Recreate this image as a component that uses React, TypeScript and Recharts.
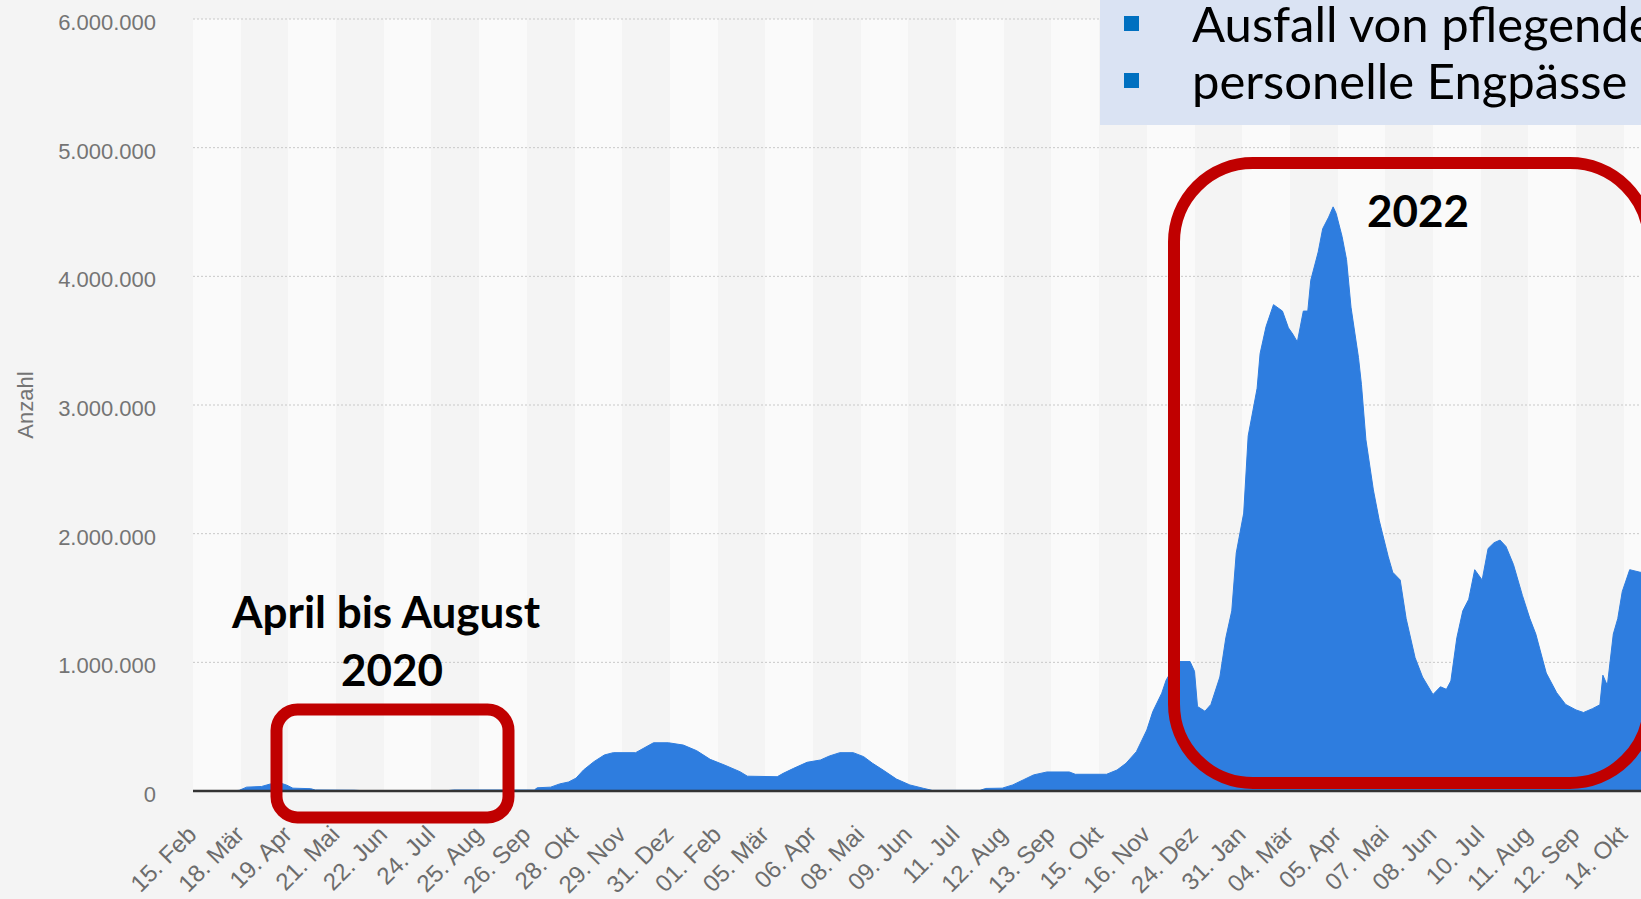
import React from 'react';
import { AreaChart, Area, XAxis, YAxis, CartesianGrid } from 'recharts';

// Tage seit dem 15. Feb 2020 (Index der täglichen Kategorien)
const dayIndex = [
  0, 25, 31, 36, 46, 52, 58, 63, 67, 79, 82, 108, 115, 170, 175, 229, 231, 240, 246, 252,
  257, 262, 269, 276, 282, 297, 302, 309, 319, 329, 338, 347, 357, 367, 372, 392, 396, 403, 412, 421,
  427, 434, 443, 450, 456, 463, 472, 481, 490, 496, 528, 532, 543, 550, 557, 564, 573, 588, 592, 613,
  620, 626, 633, 640, 644, 650, 653, 658, 662, 669, 672, 674, 679, 683, 689, 693, 697, 700, 705, 708,
  714, 716, 720, 725, 731, 735, 738, 741, 745, 748, 750, 755, 758, 762, 765, 767, 771, 774, 777, 782,
  784, 787, 792, 796, 802, 805, 810, 814, 820, 825, 832, 837, 841, 844, 848, 852, 856, 860, 865, 869,
  873, 877, 881, 886, 892, 897, 901, 908, 915, 921, 928, 933, 939, 944, 946, 949, 953, 956, 959, 964,
  971, 980,
];

// Anzahl in Tausend
const countThousands = [
  0, 0, 5, 30, 35, 55, 65, 45, 22, 18, 8, 6, 2, 2, 8, 8, 25, 30, 55, 70,
  100, 163, 228, 280, 298, 298, 330, 375, 375, 357, 313, 246, 200, 150, 115, 111, 137, 176, 223, 241,
  272, 298, 298, 267, 215, 163, 93, 47, 21, 5, 5, 20, 22, 47, 86, 125, 148, 148, 130, 130,
  163, 215, 306, 474, 617, 760, 863, 960, 1006, 1006, 930, 657, 620, 673, 886, 1190, 1400, 1850, 2160, 2760,
  3130, 3400, 3610, 3780, 3730, 3600, 3550, 3490, 3730, 3730, 3970, 4190, 4370, 4460, 4540, 4490, 4310, 4130, 3760, 3370,
  3160, 2730, 2340, 2100, 1820, 1700, 1640, 1340, 1036, 886, 750, 810, 790, 855, 1190, 1400, 1490, 1720, 1640, 1885,
  1930, 1950, 1900, 1760, 1520, 1340, 1220, 917, 764, 673, 630, 610, 640, 670, 900, 820, 1220, 1340, 1550, 1720,
  1700, 1700,
];

const tickLabels = [
  '15. Feb', '18. Mär', '19. Apr', '21. Mai', '22. Jun', '24. Jul', '25. Aug', '26. Sep', '28. Okt', '29. Nov', '31. Dez',
  '01. Feb', '05. Mär', '06. Apr', '08. Mai', '09. Jun', '11. Jul', '12. Aug', '13. Sep', '15. Okt', '16. Nov', '24. Dez',
  '31. Jan', '04. Mär', '05. Apr', '07. Mai', '08. Jun', '10. Jul', '11. Aug', '12. Sep', '14. Okt',
];
// jede 32. Kategorie ist beschriftet
const tickDays = tickLabels.map((_, i) => i * 32);

const yTicks = [0, 1000000, 2000000, 3000000, 4000000, 5000000, 6000000];

const data = dayIndex.map((d, i) => ({ day: d, value: countThousands[i] * 1000 }));

const AXIS_FONT = "'Liberation Sans', Arial, sans-serif";
const NOTE_FONT = "Lato, 'Open Sans', sans-serif";
const BLUE = '#2e7ddf';
const RED = '#c00000';

const fmt = (v: number) => String(v).replace(/\B(?=(\d{3})+(?!\d))/g, '.');

const XTick = (props: any) => {
  const { x, y, payload } = props;
  const label = tickLabels[tickDays.indexOf(payload.value)];
  return (
    <g transform={`translate(${x + 5},${y + 45})`}>
      <text textAnchor="end" transform="rotate(-45)" fontSize={24} fill="#6c6c6c" fontFamily={AXIS_FONT}>
        {label}
      </text>
    </g>
  );
};

const YTick = (props: any) => {
  const { x, y, payload } = props;
  return (
    <text x={x} y={y} dy={11} textAnchor="end" fontSize={22} fill="#747474" fontFamily={AXIS_FONT}>
      {fmt(payload.value)}
    </text>
  );
};

export default function App() {
  return (
    <div style={{ position: 'absolute', left: 0, top: 0, width: 1641, height: 899, overflow: 'hidden', background: '#f4f4f4' }}>
      <AreaChart width={1661} height={899} data={data} margin={{ top: 19, right: 0, bottom: 0, left: 0 }}>
        <CartesianGrid horizontal={false} vertical verticalFill={['#fafafa', '#f4f4f4']} stroke="none" />
        <CartesianGrid vertical={false} stroke="#c8c8c8" strokeDasharray="2 2" />
        <Area
          type="linear"
          dataKey="value"
          stroke={BLUE}
          strokeWidth={1}
          fill={BLUE}
          fillOpacity={1}
          dot={false}
          activeDot={false}
          isAnimationActive={false}
        />
        <XAxis
          type="number"
          dataKey="day"
          domain={[0, 985]}
          ticks={tickDays}
          interval={0}
          height={108}
          tickLine={false}
          tickSize={0}
          tickMargin={0}
          axisLine={{ stroke: '#333333', strokeWidth: 2.5 }}
          tick={<XTick />}
          allowDataOverflow
        />
        <YAxis
          type="number"
          domain={[0, 6000000]}
          ticks={yTicks}
          interval={0}
          width={193}
          tickLine={false}
          axisLine={false}
          tickSize={0}
          tickMargin={37}
          tick={<YTick />}
        />
      </AreaChart>
      <svg width={1641} height={899} style={{ position: 'absolute', left: 0, top: 0, pointerEvents: 'none' }}>
        <text x={33} y={405} transform="rotate(-90 33 405)" textAnchor="middle" fontSize={22} fill="#747474" fontFamily={AXIS_FONT}>
          Anzahl
        </text>
        <rect x={1100} y={-10} width={600} height={135} fill="#dae3f3" />
        <rect x={1124} y={16} width={15} height={15} fill="#0070c0" />
        <rect x={1124} y={73} width={15} height={15} fill="#0070c0" />
        <text x={1192} y={42} fontSize={49} fill="#000" fontFamily={NOTE_FONT}>Ausfall von pflegende</text>
        <text x={1192} y={99} fontSize={49} fill="#000" fontFamily={NOTE_FONT}>personelle Engpässe</text>
        <rect x={276.5} y={709.5} width={232} height={108} rx={21} fill="none" stroke={RED} strokeWidth={12} />
        <rect x={1174} y={163} width={475} height={620} rx={79} fill="none" stroke={RED} strokeWidth={12} />
        <text x={386} y={628} textAnchor="middle" fontSize={44} fontWeight="bold" fill="#000" fontFamily={NOTE_FONT}>
          April bis August
        </text>
        <text x={392} y={686} textAnchor="middle" fontSize={44} fontWeight="bold" fill="#000" fontFamily={NOTE_FONT}>
          2020
        </text>
        <text x={1418} y={227} textAnchor="middle" fontSize={44} fontWeight="bold" fill="#000" fontFamily={NOTE_FONT}>
          2022
        </text>
      </svg>
    </div>
  );
}
